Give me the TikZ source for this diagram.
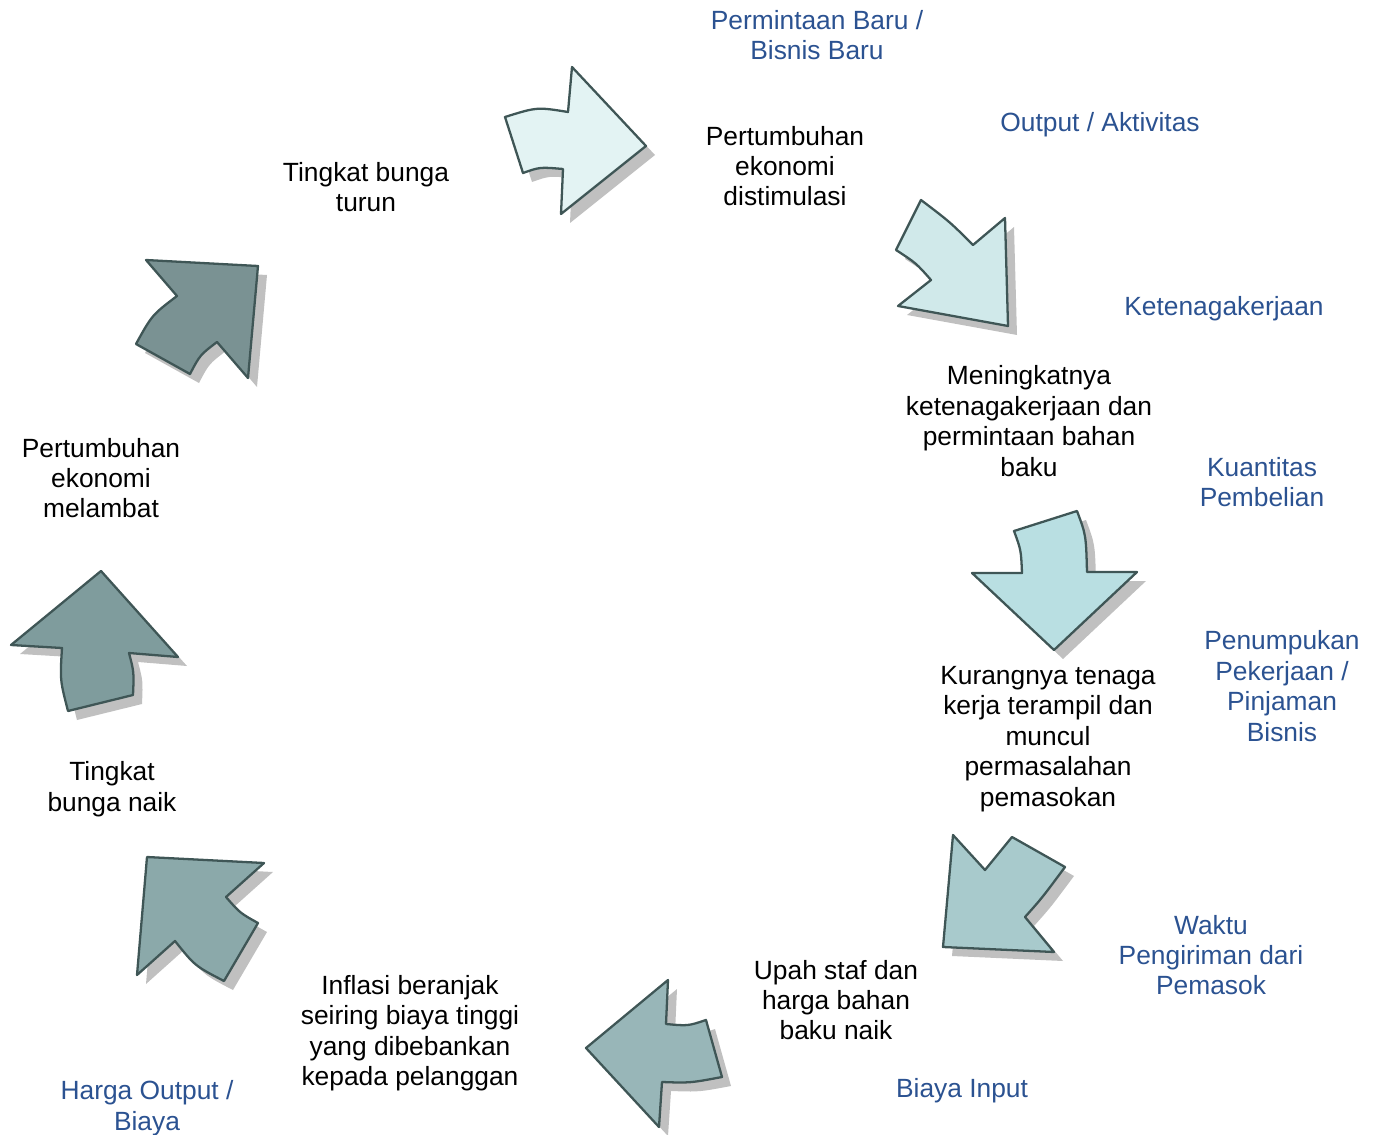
\documentclass[tikz,border=0pt]{standalone}
\usepackage{fontspec}
\setmainfont{Liberation Sans}
\definecolor{lblue}{HTML}{2B5291}
\definecolor{outl}{HTML}{3F5656}
\definecolor{shad}{HTML}{C0C0C0}
\definecolor{cA}{HTML}{E3F3F3}
\definecolor{cB}{HTML}{D0E9EA}
\definecolor{cC}{HTML}{B9DFE2}
\definecolor{cD}{HTML}{A8CACC}
\definecolor{cE}{HTML}{98B6B8}
\definecolor{cF}{HTML}{8BA9AA}
\definecolor{cG}{HTML}{7F9C9D}
\definecolor{cH}{HTML}{7A9293}
\newcommand\ArrA{(505,117) .. controls (537,107) .. (568,112) -- (572,67) -- (646,146) -- (561,214) -- (563,169) .. controls (540,167) .. (523,173) -- cycle}
\newcommand\ArrB{(921,200) .. controls (950,222) .. (973,245) -- (1005,218) -- (1008,326) -- (898,306) -- (931,280) .. controls (916,263) .. (896,250) -- cycle}
\newcommand\ArrC{(1014,531) -- (1077,511) .. controls (1086,535) .. (1087,572) -- (1137,572) -- (1054,650) -- (972,573) -- (1022,573) .. controls (1021,550) .. (1014,531) -- cycle}
\newcommand\ArrD{(953,835) -- (985,870) -- (1012,837) -- (1065,867) .. controls (1042,898) .. (1025,917) -- (1054,952) -- (943,947) -- cycle}
\newcommand\ArrE{(668,980) -- (666,1024) .. controls (688,1026) .. (706,1020) -- (722,1077) .. controls (690,1083) .. (662,1082) -- (659,1127) -- (586,1048) -- cycle}
\newcommand\ArrF{(147,857) -- (264,863) -- (226,897) .. controls (240,913) .. (258,923) -- (224,981) .. controls (195,966) .. (175,941) -- (137,975) -- cycle}
\newcommand\ArrG{(101,571) -- (178,657) -- (129,653) .. controls (134,672) .. (133,695) -- (68,711) .. controls (60,680) .. (62,648) -- (11,645) -- cycle}
\newcommand\ArrH{(146,260) -- (258,266) -- (248,378) -- (217,342) .. controls (200,355) .. (190,374) -- (136,344) .. controls (152,315) .. (177,296) -- cycle}
\tikzset{
  arr/.style={draw=outl, line width=1.3pt, line join=round},
  blk/.style={align=center, font=\fontsize{15pt}{17.3pt}\selectfont, text=black, inner sep=0pt},
  blu/.style={align=center, font=\fontsize{15pt}{17.3pt}\selectfont, text=lblue, inner sep=0pt}
}
\begin{document}
\begin{tikzpicture}[x=0.02cm, y=-0.02cm]
\useasboundingbox (0,0) rectangle (1376,1135);
\begin{scope}[shift={(9,9)}]
\foreach \p in {\ArrA,\ArrB,\ArrC,\ArrD,\ArrE,\ArrF,\ArrG,\ArrH}{ \fill[shad] \p; }
\end{scope}
\path[arr, fill=cA] \ArrA;
\path[arr, fill=cB] \ArrB;
\path[arr, fill=cC] \ArrC;
\path[arr, fill=cD] \ArrD;
\path[arr, fill=cE] \ArrE;
\path[arr, fill=cF] \ArrF;
\path[arr, fill=cG] \ArrG;
\path[arr, fill=cH] \ArrH;
% blue labels
\node[blu] (b1) at (817,35) {Permintaan Baru /\\Bisnis Baru};
\node[blu] (b2) at (1100,125) {Output / Aktivitas};
\node[blu] (b3) at (1224,309) {Ketenagakerjaan};
\node[blu] (b4) at (1262,482) {Kuantitas\\Pembelian};
\node[blu] (b5) at (1282,686) {Penumpukan\\Pekerjaan /\\Pinjaman\\Bisnis};
\node[blu] (b6) at (1211,955) {Waktu\\Pengiriman dari\\Pemasok};
\node[blu] (b7) at (962,1091) {Biaya Input};
\node[blu] (b8) at (147,1108) {Harga Output /\\Biaya};
% black labels
\node[blk] (t1) at (366,187) {Tingkat bunga\\turun};
\node[blk] (t2) at (785,166) {Pertumbuhan\\ekonomi\\distimulasi};
\node[blk] (t3) at (1029,421) {Meningkatnya\\ketenagakerjaan dan\\permintaan bahan\\baku};
\node[blk] (t4) at (1048,739) {Kurangnya tenaga\\kerja terampil dan\\muncul\\permasalahan\\pemasokan};
\node[blk] (t5) at (836,1000) {Upah staf dan\\harga bahan\\baku naik};
\node[blk] (t6) at (410,1033) {Inflasi beranjak\\seiring biaya tinggi\\yang dibebankan\\kepada pelanggan};
\node[blk] (t7) at (112,789) {Tingkat\\bunga naik};
\node[blk] (t8) at (101,478) {Pertumbuhan\\ekonomi\\melambat};
\end{tikzpicture}
\end{document}
